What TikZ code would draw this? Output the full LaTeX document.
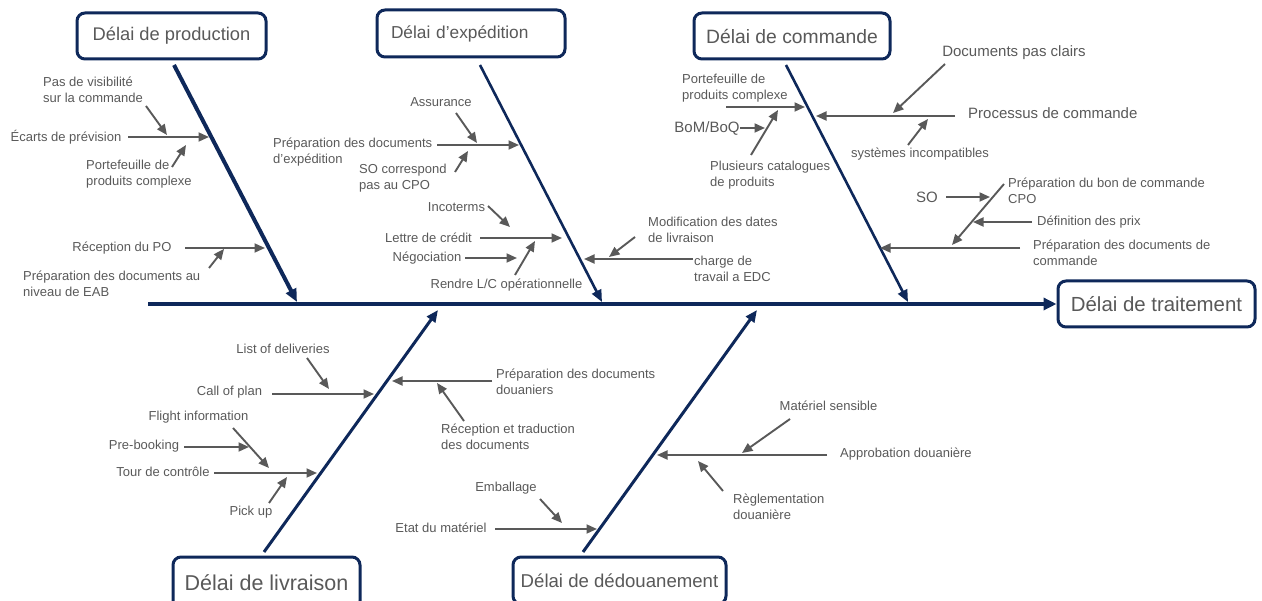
\documentclass[tikz,border=0pt]{standalone}
\usepackage{fontspec}
\setmainfont{Liberation Sans}
\usetikzlibrary{arrows.meta}
\definecolor{navy}{RGB}{14,40,90}
\definecolor{txtgray}{RGB}{89,89,89}
\definecolor{arrgray}{RGB}{89,89,89}

\begin{document}
\begin{tikzpicture}[x=1pt,y=-1pt,
  lbl/.style={font=\fontsize{13}{16}\selectfont, text=txtgray, inner sep=0pt, align=left},
  lblbig/.style={lbl, font=\fontsize{15}{18}\selectfont},
  cause/.style={draw=arrgray, line width=1.9pt, -{Triangle[length=10.5pt,width=9pt]}},
  bone/.style={draw=navy, line width=2.6pt, -{Triangle[length=12pt,width=10pt]}},
  spine/.style={draw=navy, line width=4.5pt, -{Triangle[length=13pt,width=12pt]}},
  catbox/.style={draw=navy, line width=3pt, rounded corners=8pt, fill=white,
                 text=txtgray, inner sep=0pt, align=center}
]
\useasboundingbox (0,0) rectangle (1262,601);
\clip (0,0) rectangle (1262,601);

% ---------- category boxes ----------
\node[catbox, minimum width=189pt, minimum height=46pt,
      font=\fontsize{18.3}{22}\selectfont] (prod) at (171.5,36) {Délai de production};
\node[catbox, minimum height=47pt, text width=160pt, inner xsep=14pt, align=left,
      font=\fontsize{17.3}{21}\selectfont] (exped) at (471,33.5) {Délai d’expédition};
\node[catbox, minimum width=196pt, minimum height=46pt,
      font=\fontsize{19.3}{23}\selectfont] (cmd) at (792,36) {Délai de commande};
\node[catbox, minimum width=197pt, minimum height=46pt,
      font=\fontsize{20.4}{24}\selectfont] (trait) at (1156.5,304) {Délai de traitement};
\node[catbox, minimum width=187pt, minimum height=52pt,
      font=\fontsize{21.5}{25}\selectfont] (livr) at (266.5,583) {Délai de livraison};
\node[catbox, minimum width=213pt, minimum height=47pt,
      font=\fontsize{18.6}{22}\selectfont] (douane) at (619.5,580.5) {Délai de dédouanement};

% ---------- spine ----------
\coordinate (spineS) at (148,304);
\draw[spine] (spineS) -- (trait.west);

% ---------- main bones ----------
\coordinate (prodA) at (174,65);  \coordinate (prodB) at (297,302);
\draw[bone, line width=4pt, -{Triangle[length=13pt,width=11pt]}] (prodA) -- (prodB);
\coordinate (expA) at (480,65);   \coordinate (expB) at (602,302);
\draw[bone] (expA) -- (expB);
\coordinate (cmdA) at (786,65);   \coordinate (cmdB) at (908,302);
\draw[bone] (cmdA) -- (cmdB);
\coordinate (livA) at (264,552);  \coordinate (livB) at (438,310);
\draw[bone, line width=3pt] (livA) -- (livB);
\coordinate (douA) at (583,552);  \coordinate (douB) at (757,310);
\draw[bone, line width=3pt] (douA) -- (douB);

% ---------- production ----------
\node[lbl] (ecarts) at (66,137) {Écarts de prévision};
\coordinate (ecartsS) at (128,137); \coordinate (ecartsE) at (209,137);
\draw[cause] (ecartsS) -- (ecartsE);
\node[lbl, anchor=west] (visib) at (43,90) {Pas de visibilité\\sur la commande};
\coordinate (visibS) at (146,106); \coordinate (visibE) at (167,135);
\draw[cause] (visibS) -- (visibE);
\node[lbl, anchor=west] (portf) at (86,174) {Portefeuille de\\produits complexe};
\coordinate (portfS) at (172,167); \coordinate (portfE) at (186,145);
\draw[cause] (portfS) -- (portfE);
\node[lbl] (recpo) at (122,248) {Réception du PO};
\coordinate (recpoS) at (185,248); \coordinate (recpoE) at (265,248);
\draw[cause] (recpoS) -- (recpoE);
\node[lbl, anchor=west] (eab) at (23,283.5) {Préparation des documents au\\niveau de EAB};
\coordinate (eabS) at (209,268); \coordinate (eabE) at (224,249);
\draw[cause] (eabS) -- (eabE);

% ---------- expedition ----------
\node[lbl, anchor=west] (prepexp) at (273,152.5) {Préparation des documents\\d’expédition};
\coordinate (prepexpS) at (437,145); \coordinate (prepexpE) at (519,145);
\draw[cause] (prepexpS) -- (prepexpE);
\node[lbl] (assur) at (441,102) {Assurance};
\coordinate (assurS) at (456,113); \coordinate (assurE) at (477,143);
\draw[cause] (assurS) -- (assurE);
\node[lbl, anchor=west] (socpo) at (359,178.5) {SO correspond\\pas au CPO};
\coordinate (socpoS) at (455,172); \coordinate (socpoE) at (468,151);
\draw[cause] (socpoS) -- (socpoE);
\node[lbl] (incot) at (456.5,207) {Incoterms};
\coordinate (incotS) at (488,206); \coordinate (incotE) at (510,227);
\draw[cause] (incotS) -- (incotE);
\node[lbl] (lettre) at (428.5,238) {Lettre de crédit};
\coordinate (lettreS) at (480,238); \coordinate (lettreE) at (562,238);
\draw[cause] (lettreS) -- (lettreE);
\node[lbl] (nego) at (427,258) {Négociation};
\coordinate (negoS) at (465,258); \coordinate (negoE) at (517,258);
\draw[cause] (negoS) -- (negoE);
\node[lbl] (rendre) at (506.5,285) {Rendre L/C opérationnelle};
\coordinate (rendreS) at (515,275); \coordinate (rendreE) at (535,241);
\draw[cause] (rendreS) -- (rendreE);
\node[lbl, anchor=west] (charge) at (694,268.5) {charge de\\travail a EDC};
\coordinate (chargeS) at (693,259); \coordinate (chargeE) at (584,259);
\draw[cause] (chargeS) -- (chargeE);
\node[lbl, anchor=west] (modif) at (648,230) {Modification des dates\\de livraison};
\coordinate (modifS) at (635,237); \coordinate (modifE) at (609,257);
\draw[cause] (modifS) -- (modifE);

% ---------- commande ----------
\node[lbl, anchor=west] (portf2) at (682,88.5) {Portefeuille de\\produits complexe};
\coordinate (portf2S) at (726,107); \coordinate (portf2E) at (805,107);
\draw[cause] (portf2S) -- (portf2E);
\node[lblbig] (bom) at (707,128) {BoM/BoQ};
\coordinate (bomS) at (740,128); \coordinate (bomE) at (765,128);
\draw[cause] (bomS) -- (bomE);
\node[lbl, anchor=west] (catal) at (710,175) {Plusieurs catalogues\\de produits};
\coordinate (catalS) at (751,155); \coordinate (catalE) at (778,110);
\draw[cause] (catalS) -- (catalE);
\node[lblbig, anchor=west] (proc) at (968,113) {Processus de commande};
\coordinate (procS) at (955,116); \coordinate (procE) at (816,116);
\draw[cause] (procS) -- (procE);
\node[lblbig] (docs) at (1014,53) {Documents pas clairs};
\coordinate (docsS) at (945,64); \coordinate (docsE) at (893,113);
\draw[cause] (docsS) -- (docsE);
\node[lbl] (syst) at (920,154) {systèmes incompatibles};
\coordinate (systS) at (908,145); \coordinate (systE) at (928,119);
\draw[cause] (systS) -- (systE);
\node[lbl, anchor=west] (prepcmd) at (1033,252.5) {Préparation des documents de\\commande};
\coordinate (prepcmdS) at (1020,248); \coordinate (prepcmdE) at (880,248);
\draw[cause] (prepcmdS) -- (prepcmdE);
\node[lbl, anchor=west] (bon) at (1008,191) {Préparation du bon de commande\\CPO};
\coordinate (bonS) at (1004,184); \coordinate (bonE) at (952,245);
\draw[cause] (bonS) -- (bonE);
\node[lblbig] (so) at (927,197) {SO};
\coordinate (soS) at (946,197); \coordinate (soE) at (990,197);
\draw[cause] (soS) -- (soE);
\node[lbl, anchor=west] (prix) at (1037,222) {Définition des prix};
\coordinate (prixS) at (1032,222); \coordinate (prixE) at (973,222);
\draw[cause] (prixS) -- (prixE);

% ---------- livraison ----------
\node[lbl] (listdel) at (283,349) {List of deliveries};
\coordinate (listdelS) at (307,358); \coordinate (listdelE) at (329,389);
\draw[cause] (listdelS) -- (listdelE);
\node[lbl] (callp) at (229.5,392) {Call of plan};
\coordinate (callpS) at (272,394); \coordinate (callpE) at (374,394);
\draw[cause] (callpS) -- (callpE);
\node[lbl] (flight) at (198.5,417) {Flight information};
\coordinate (flightS) at (233,428); \coordinate (flightE) at (269,468);
\draw[cause] (flightS) -- (flightE);
\node[lbl] (prebook) at (144,446) {Pre-booking};
\coordinate (prebookS) at (184,447); \coordinate (prebookE) at (249,447);
\draw[cause] (prebookS) -- (prebookE);
\node[lbl] (tour) at (163,472) {Tour de contrôle};
\coordinate (tourS) at (214,473); \coordinate (tourE) at (317,473);
\draw[cause] (tourS) -- (tourE);
\node[lbl] (pick) at (251,512) {Pick up};
\coordinate (pickS) at (269,503); \coordinate (pickE) at (287,477);
\draw[cause] (pickS) -- (pickE);
\node[lbl, anchor=west] (prepdou) at (496,382) {Préparation des documents\\douaniers};
\coordinate (prepdouS) at (492,381); \coordinate (prepdouE) at (392,381);
\draw[cause] (prepdouS) -- (prepdouE);
\node[lbl, anchor=west] (recep) at (441,436.5) {Réception et traduction\\des documents};
\coordinate (recepS) at (464,421); \coordinate (recepE) at (437,383);
\draw[cause] (recepS) -- (recepE);

% ---------- dedouanement ----------
\node[lbl] (emball) at (506,488) {Emballage};
\coordinate (emballS) at (540,499); \coordinate (emballE) at (562,523);
\draw[cause] (emballS) -- (emballE);
\node[lbl] (etat) at (441,528) {Etat du matériel};
\coordinate (etatS) at (495,529); \coordinate (etatE) at (597,529);
\draw[cause] (etatS) -- (etatE);
\node[lbl, anchor=west] (approb) at (840,454) {Approbation douanière};
\coordinate (approbS) at (827,455); \coordinate (approbE) at (657,455);
\draw[cause] (approbS) -- (approbE);
\node[lbl] (sensib) at (828.5,406) {Matériel sensible};
\coordinate (sensibS) at (790,419); \coordinate (sensibE) at (742,453);
\draw[cause] (sensibS) -- (sensibE);
\node[lbl, anchor=west] (regl) at (733,506.5) {Règlementation\\douanière};
\coordinate (reglS) at (723,491); \coordinate (reglE) at (698,461);
\draw[cause] (reglS) -- (reglE);
\end{tikzpicture}
\end{document}
